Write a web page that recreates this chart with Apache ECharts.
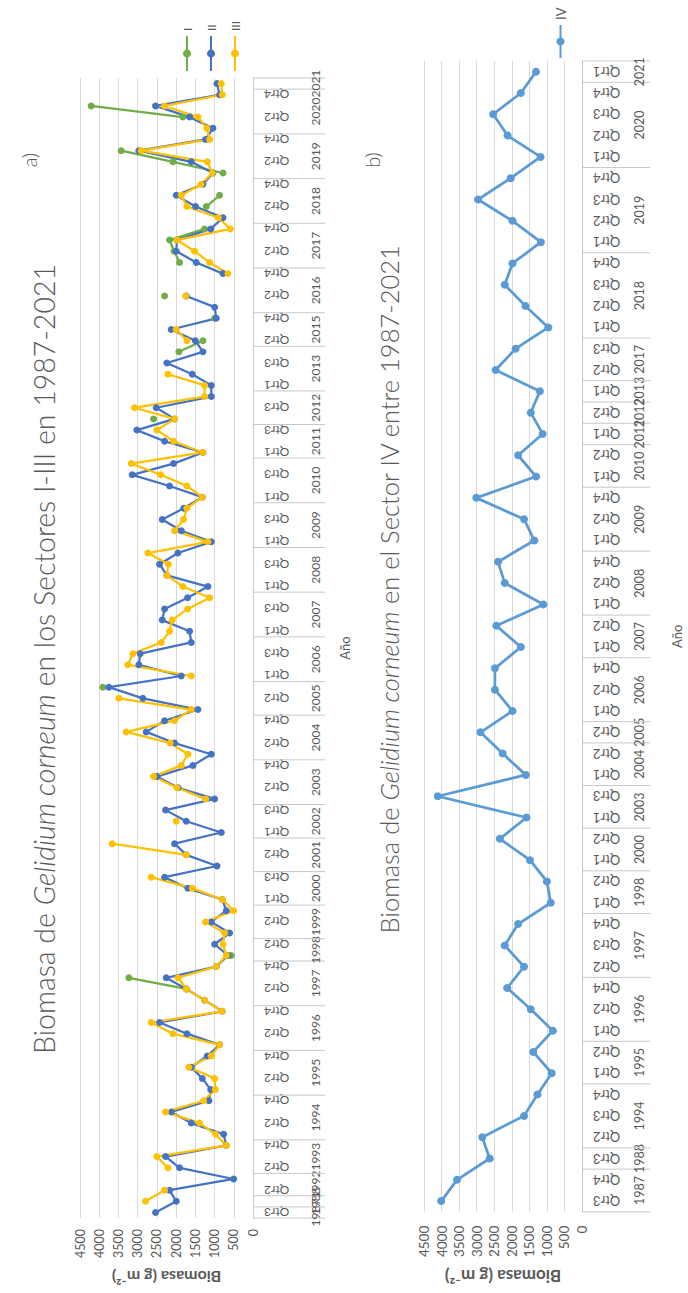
<!DOCTYPE html>
<html>
<head>
<meta charset="utf-8">
<script src="https://cdn.jsdelivr.net/npm/echarts/dist/echarts.min.js"></script>
<style>
html,body{margin:0;padding:0;width:688px;height:1293px;overflow:hidden;background:#ffffff;}
#chart{position:absolute;left:0;top:0;width:1293px;height:688px;transform-origin:0 0;transform:translate(0px,1293px) rotate(-90deg);}
</style>
</head>
<body>
<div id="chart"></div>
<script>
// ---------- Chart a: Sectores I-III ----------
const yearsA = [1987,1988,1992,1992,1993,1993,1993,1994,1994,1994,1994,1995,1995,1995,1995,1996,1996,1996,1996,1997,1997,1997,1997,1998,1998,1999,1999,1999,2000,2000,2000,2001,2001,2001,2002,2002,2002,2003,2003,2003,2003,2004,2004,2004,2004,2005,2005,2005,2006,2006,2006,2006,2007,2007,2007,2007,2008,2008,2008,2008,2009,2009,2009,2009,2010,2010,2010,2010,2011,2011,2011,2012,2012,2012,2013,2013,2013,2013,2015,2015,2015,2016,2016,2016,2016,2017,2017,2017,2017,2018,2018,2018,2018,2019,2019,2019,2019,2020,2020,2020,2020,2021];
const qtrsA = ['Qtr3','Qtr3','Qtr2','Qtr3','Qtr2','Qtr3','Qtr4','Qtr1','Qtr2','Qtr3','Qtr4','Qtr1','Qtr2','Qtr3','Qtr4','Qtr1','Qtr2','Qtr3','Qtr4','Qtr1','Qtr2','Qtr3','Qtr4','Qtr1','Qtr2','Qtr1','Qtr2','Qtr3','Qtr1','Qtr2','Qtr3','Qtr1','Qtr2','Qtr3','Qtr1','Qtr2','Qtr3','Qtr1','Qtr2','Qtr3','Qtr4','Qtr1','Qtr2','Qtr3','Qtr4','Qtr1','Qtr2','Qtr3','Qtr1','Qtr2','Qtr3','Qtr4','Qtr1','Qtr2','Qtr3','Qtr4','Qtr1','Qtr2','Qtr3','Qtr4','Qtr1','Qtr2','Qtr3','Qtr4','Qtr1','Qtr2','Qtr3','Qtr4','Qtr1','Qtr2','Qtr3','Qtr2','Qtr3','Qtr4','Qtr1','Qtr2','Qtr3','Qtr4','Qtr2','Qtr3','Qtr4','Qtr1','Qtr2','Qtr3','Qtr4','Qtr1','Qtr2','Qtr3','Qtr4','Qtr1','Qtr2','Qtr3','Qtr4','Qtr1','Qtr2','Qtr3','Qtr4','Qtr1','Qtr2','Qtr3','Qtr4','Qtr1'];
const sectorI = [null,null,null,null,null,null,null,null,null,null,
 null,null,null,null,null,null,null,null,null,null,
 1736,3229,null,564,null,null,null,null,null,null,
 null,null,null,null,null,null,null,null,null,null,
 null,null,null,null,null,null,null,3906,null,null,
 null,null,null,null,null,null,null,null,null,null,
 null,null,null,null,null,null,null,null,null,null,
 null,2587,null,null,null,null,null,1927,1302,null,
 998,null,2300,null,null,1910,2050,2170,1259,null,
 1215,868,null,781,2083,3429,null,null,1823,4210,
 null,null];
const sectorII = [2535,1996,2170,503,1910,2274,694,764,1606,2127,
 1146,1100,1319,1606,1189,868,1719,2430,800,1259,
 1736,2257,955,650,998,608,1085,694,799,1693,
 2300,937,1736,2040,825,1736,2274,998,1950,2500,
 1562,1085,2040,2778,2300,1432,2864,3750,1866,2969,
 2934,1606,1649,2361,2300,1700,1172,2240,2430,1953,
 1085,1866,2361,1800,1319,2170,3142,2066,1302,2300,
 3021,2040,2517,1085,1085,1580,2240,1302,1500,2127,
 955,998,1736,null,781,1476,1996,1979,1100,781,
 1493,1996,1302,1042,1606,2969,1233,1042,1649,2535,
 868,937];
const sectorIII = [null,2795,2300,null,2213,2500,694,972,1389,2274,
 1285,980,998,1667,1085,868,2083,2647,800,1259,
 1736,1953,955,694,781,738,1233,503,799,1580,
 2647,null,1736,3663,null,1996,null,1233,1979,2587,
 1866,1693,2153,3298,2040,1606,3489,null,1606,3255,
 3125,2387,2170,2101,1700,1128,1823,2240,2200,2734,
 1172,2040,1805,1719,1319,1719,2400,3168,1302,2066,
 2500,2040,3081,1259,1259,2213,null,null,1719,1996,
 null,null,1753,null,651,1128,1519,1979,590,900,
 1719,1866,1350,1059,1189,2908,1128,1200,1432,2300,
 799,825];

// ---------- Chart b: Sector IV ----------
const yearsB = [1987,1987,1988,1994,1994,1994,1995,1995,1996,1996,1996,1997,1997,1997,1998,1998,2000,2000,2003,2003,2004,2004,2005,2006,2006,2006,2007,2007,2008,2008,2008,2009,2009,2009,2010,2010,2011,2012,2013,2017,2017,2018,2018,2018,2018,2019,2019,2019,2019,2020,2020,2020,2020,2021];
const qtrsB = ['Qtr3','Qtr4','Qtr3','Qtr2','Qtr3','Qtr4','Qtr1','Qtr2','Qtr1','Qtr2','Qtr4','Qtr2','Qtr3','Qtr4','Qtr1','Qtr2','Qtr1','Qtr2','Qtr1','Qtr3','Qtr1','Qtr2','Qtr2','Qtr1','Qtr2','Qtr4','Qtr1','Qtr2','Qtr1','Qtr2','Qtr4','Qtr1','Qtr2','Qtr4','Qtr1','Qtr2','Qtr1','Qtr2','Qtr1','Qtr2','Qtr3','Qtr1','Qtr2','Qtr3','Qtr4','Qtr1','Qtr2','Qtr3','Qtr4','Qtr1','Qtr2','Qtr3','Qtr4','Qtr1'];
const sectorIV = [4010,3560,2630,2840,1650,1270,860,1390,830,1460,2130,1650,2200,1820,890,1000,1480,2340,1580,4110,1600,2260,2890,1980,2480,2480,1740,2440,1100,2200,2390,1360,1650,3010,1310,1820,1120,1460,1200,2460,1890,960,1610,2200,1980,1170,1980,2960,2030,1180,2120,2530,1740,1310];

const valueTicks = [0, 4500, 500]; // min, max, interval
const FONT = 'Lato, "Open Sans", "Noto Sans", sans-serif';
const TXT = '#595959';

function groupsOf(years) {
  const g = [];
  years.forEach((y, i) => {
    if (g.length && g[g.length - 1].label === String(y)) g[g.length - 1].end = i;
    else g.push({ label: String(y), start: i, end: i });
  });
  return g;
}
const groupsA = groupsOf(yearsA);
const groupsB = groupsOf(yearsB);

function yearSeries(idx, groups, drop, textDrop, fs) {
  return {
    type: 'custom', xAxisIndex: idx, yAxisIndex: idx, clip: false, silent: true, z: 1,
    data: groups.map(g => [g.start, 0, g.end]),
    renderItem: function (params, api) {
      const s = api.value(0), e = api.value(2);
      const ps = api.coord([s, 0]), pe = api.coord([e, 0]);
      const band = api.size([1, 0])[0];
      const x0 = ps[0] - band / 2, x1 = pe[0] + band / 2, y = ps[1];
      const ch = [{ type: 'line', shape: { x1: x0, y1: y, x2: x0, y2: y + drop }, style: { stroke: '#c8c8c8', lineWidth: 1 } }];
      if (params.dataIndex === groups.length - 1) {
        ch.push({ type: 'line', shape: { x1: x1, y1: y, x2: x1, y2: y + drop }, style: { stroke: '#c8c8c8', lineWidth: 1 } });
      }
      ch.push({ type: 'text', style: { text: groups[params.dataIndex].label, x: (x0 + x1) / 2, y: y + textDrop, align: 'center', verticalAlign: 'middle', fontSize: fs, fontFamily: FONT, fill: TXT } });
      return { type: 'group', children: ch };
    }
  };
}

function lineSeries(name, data, color, idx, w, sz) {
  return {
    name: name, type: 'line', data: data, xAxisIndex: idx, yAxisIndex: idx,
    symbol: 'circle', symbolSize: sz, showAllSymbol: true, connectNulls: false,
    lineStyle: { color: color, width: w }, itemStyle: { color: color },
    emphasis: { disabled: true }, z: 3
  };
}

function valAxis(idx, margin, gap, fs, nfs) {
  return {
    type: 'value', gridIndex: idx, min: valueTicks[0], max: valueTicks[1], interval: valueTicks[2],
    axisLine: { show: false }, axisTick: { show: false },
    axisLabel: { fontSize: fs, color: TXT, fontFamily: FONT, margin: margin, formatter: v => String(v) },
    splitLine: { lineStyle: { color: '#d9d9d9', width: 1 } },
    name: 'Biomasa (g m⁻²)', nameLocation: 'middle', nameRotate: 90, nameGap: gap,
    nameTextStyle: { fontSize: nfs, fontWeight: 'bold', color: TXT, fontFamily: FONT }
  };
}
function catAxis(idx, data, interval, gap, fs) {
  return {
    type: 'category', gridIndex: idx, data: data, boundaryGap: true,
    axisLine: { lineStyle: { color: '#c8c8c8', width: 1 } }, axisTick: { show: false },
    axisLabel: { rotate: 90, interval: interval, fontSize: fs, color: TXT, fontFamily: FONT, margin: 11 },
    splitLine: { show: false },
    name: 'Año', nameLocation: 'middle', nameGap: gap,
    nameTextStyle: { fontSize: 13, color: TXT, fontFamily: FONT }
  };
}

const chart = echarts.init(document.getElementById('chart'), null, { renderer: 'svg', width: 1293, height: 688 });
chart.setOption({
  backgroundColor: '#ffffff',
  animation: false,
  textStyle: { fontFamily: FONT },
  title: [
    { text: '{n|Biomasa de }{i|Gelidium corneum}{n| en los Sectores I-III en 1987-2021}', left: 634, top: 29, textAlign: 'center', padding: 0,
      textStyle: { rich: { n: { fontSize: 28.5, fontWeight: 300, color: TXT, fontFamily: FONT }, i: { fontSize: 28.5, fontWeight: 300, color: TXT, fontFamily: FONT, fontStyle: 'italic' } } } },
    { text: 'a)', left: 1133, top: 19, textAlign: 'center', padding: 0, textStyle: { fontSize: 20, fontWeight: 300, color: TXT, fontFamily: FONT } },
    { text: '{n|Biomasa de }{i|Gelidium corneum}{n| en el Sector IV entre 1987-2021}', left: 704, top: 376, textAlign: 'center', padding: 0,
      textStyle: { rich: { n: { fontSize: 25.5, fontWeight: 300, color: TXT, fontFamily: FONT }, i: { fontSize: 25.5, fontWeight: 300, color: TXT, fontFamily: FONT, fontStyle: 'italic' } } } },
    { text: 'b)', left: 1133, top: 362, textAlign: 'center', padding: 0, textStyle: { fontSize: 20, fontWeight: 300, color: TXT, fontFamily: FONT } }
  ],
  legend: [
    { data: ['I', 'II', 'III'], orient: 'vertical', left: 1216, top: 176, itemWidth: 35, itemHeight: 10, itemGap: 12,
      textStyle: { fontSize: 12, color: TXT, fontFamily: FONT } },
    { data: ['IV'], orient: 'vertical', left: 1229, top: 549, itemWidth: 33, itemHeight: 10,
      textStyle: { fontSize: 13, color: TXT, fontFamily: FONT } }
  ],
  grid: [
    { left: 71, right: 78, top: 80, height: 173 },
    { left: 67, right: 61, top: 424, height: 158 }
  ],
  xAxis: [catAxis(0, qtrsA, 1, 85, 12), catAxis(1, qtrsB, 0, 88, 13)],
  yAxis: [valAxis(0, 11, 47, 12.5, 16), valAxis(1, 14, 52, 13.5, 17)],
  series: [
    lineSeries('I', sectorI, '#70ad47', 0, 2.25, 7),
    lineSeries('II', sectorII, '#4472c4', 0, 2.25, 7),
    lineSeries('III', sectorIII, '#ffc000', 0, 2.25, 7),
    lineSeries('IV', sectorIV, '#5b9bd5', 1, 2.75, 8),
    yearSeries(0, groupsA, 72, 62, 12),
    yearSeries(1, groupsB, 68, 57, 12.5)
  ]
});
</script>
</body>
</html>
